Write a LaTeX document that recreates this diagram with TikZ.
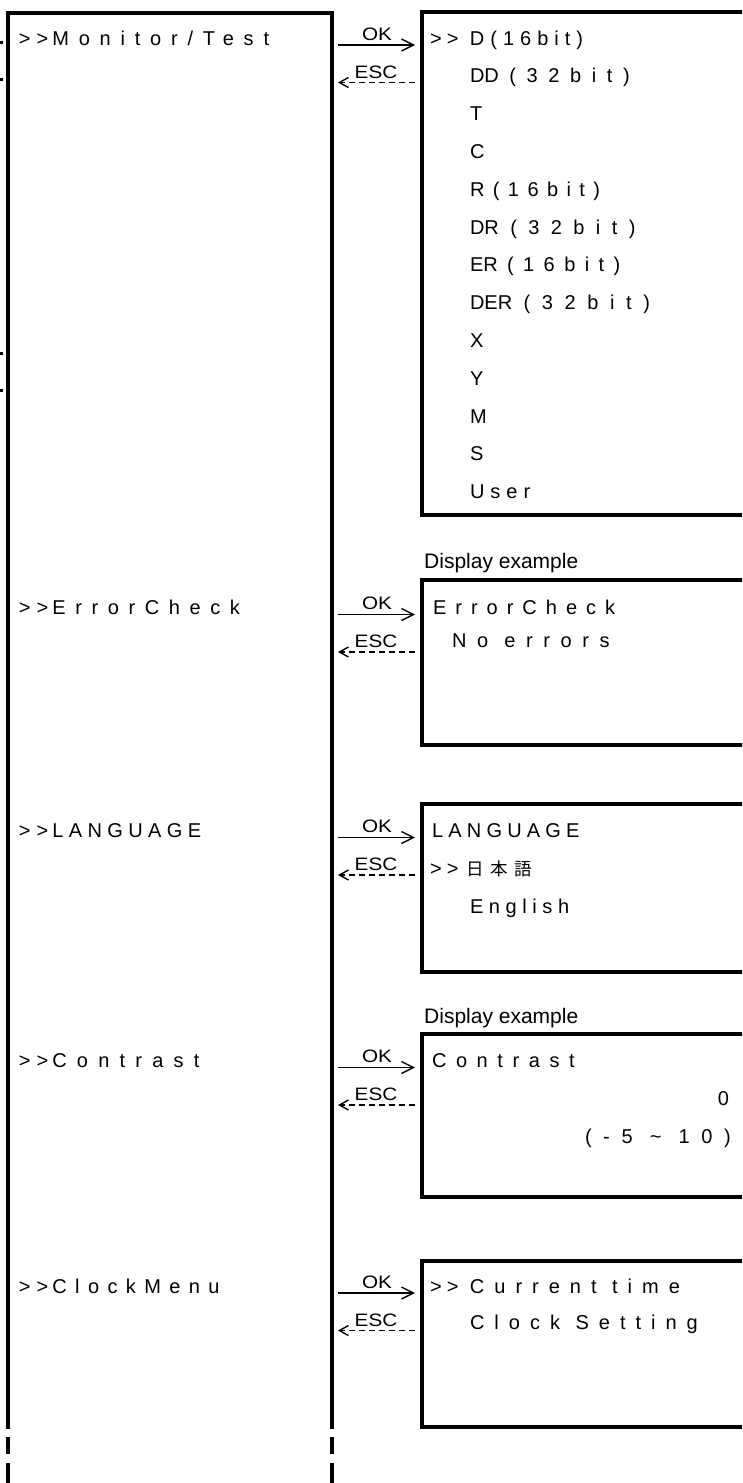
\documentclass[tikz,border=0pt]{standalone}
\usepackage{fontspec}
\setmainfont{Liberation Sans}
\newfontfamily\cjk{Noto Sans CJK JP}
\usetikzlibrary{arrows.meta}
\newcommand\lsp[2]{{\addfontfeature{LetterSpace=#1}#2}}
\newcommand\gtgt[2]{\mbox{>}\kern#1\mbox{>}\kern#2}
\begin{document}
\begin{tikzpicture}[x=1pt,y=-1pt,
  frame/.style={line width=4pt},
  screen/.style={draw, line width=4pt, outer sep=0pt, inner sep=0pt, anchor=north west, minimum width=360pt},
  lcd/.style={inner sep=0pt, outer sep=0pt, anchor=base west, font=\fontsize{20}{24}\selectfont},
  arrlab/.style={inner sep=0pt, anchor=base, font=\fontsize{18}{20}\selectfont\addfontfeature{FakeStretch=1.15}},
  note/.style={inner sep=0pt, anchor=base west, font=\fontsize{21}{24}\selectfont},
  okarr/.style={line width=1.4pt, -{Straight Barb[length=12pt,width=12pt,line width=1.4pt]}, shorten >=7pt},
  escarr/.style={line width=1.4pt, dash pattern=on 6pt off 4pt, -{Straight Barb[length=9pt,width=10pt,line width=1.4pt]}, shorten <=7pt}
]
\useasboundingbox (0,0) rectangle (742,1483);
\clip (0,0) rectangle (742,1483);
% left column
\draw[frame] (8,1429) -- (8,13) -- (332,13) -- (332,1429);
\draw[frame] (8,1437) -- (8,1454) (8,1463) -- (8,1490)
             (332,1437) -- (332,1454) (332,1463) -- (332,1490);
% cut-off marks at the left edge
\fill (0,41) rectangle (2.5,43.5);
\fill (0,78) rectangle (2.5,80.5);
\fill (0,352) rectangle (2.5,354.5);
\fill (0,389) rectangle (2.5,391.5);
% screens
\node[screen, minimum height=503pt] (box1) at (422,12) {};
\node[screen, minimum height=165pt] (box2) at (422,580) {};
\node[screen, minimum height=168pt] (box3) at (422,804) {};
\node[screen, minimum height=163pt] (box4) at (422,1034) {};
\node[screen, minimum height=166pt] (box5) at (422,1261) {};
% left column labels
\node[lcd] (m1) at (19,45) {\gtgt{6pt}{4pt}\lsp{49}{Monitor/Test}};
\node[lcd] (m2) at (19,614.5) {\gtgt{6pt}{4pt}\lsp{48}{ErrorCheck}};
\node[lcd] (m3) at (19,837.5) {\gtgt{6pt}{4pt}\lsp{27}{LANGUAGE}};
\node[lcd] (m4) at (19,1067.5) {\gtgt{6pt}{4pt}\lsp{51}{Contrast}};
\node[lcd] (m5) at (19,1293) {\gtgt{6pt}{4pt}\lsp{42}{ClockMenu}};
% box 1
\node[lcd] (d1) at (430,45) {\gtgt{5.3pt}{11.3pt}\lsp{30}{D(16bit)}};
\node[lcd] (d2) at (470,82.8) {DD\hspace{10.6pt}\lsp{53}{(32bit)}};
\node[lcd] (d3) at (470,120.6) {T};
\node[lcd] (d4) at (470,158.4) {C};
\node[lcd] (d5) at (470,196.2) {R\hspace{8.5pt}\lsp{42}{(16bit)}};
\node[lcd] (d6) at (470,234) {DR\hspace{11.5pt}\lsp{57}{(32bit)}};
\node[lcd] (d7) at (470,271.8) {ER\hspace{9.4pt}\lsp{47}{(16bit)}};
\node[lcd] (d8) at (470,309.6) {DER\hspace{11.5pt}\lsp{58}{(32bit)}};
\node[lcd] (d9) at (470,347.4) {X};
\node[lcd] (d10) at (470,385.2) {Y};
\node[lcd] (d11) at (470,423) {M};
\node[lcd] (d12) at (470,460.8) {S};
\node[lcd] (d13) at (470,498.6) {\lsp{30}{User}};
% box 2
\node[note] (n2) at (424,568) {Display example};
\node[lcd] (e1) at (433,614.5) {\lsp{45}{ErrorCheck}};
\node[lcd] (e2) at (452,647.5) {\lsp{53}{No errors}};
% box 3
\node[lcd] (l1) at (432,837.5) {\lsp{26}{LANGUAGE}};
\node[lcd] (l2) at (430,875.3) {\gtgt{5.3pt}{8pt}{\cjk\fontsize{17.5}{20}\selectfont\addfontfeature{LetterSpace=38}日本語}};
\node[lcd] (l3) at (470,913.1) {\lsp{28}{English}};
% box 4
\node[note] (n4) at (424,1023) {Display example};
\node[lcd] (c1) at (432,1067.5) {\lsp{48}{Contrast}};
\node[lcd, anchor=base east] (c2) at (729,1105.3) {0};
\node[lcd] (c3) at (585,1143.1) {\lsp{58}{(-5 \textasciitilde{} 10)}};
% box 5
\node[lcd] (k1) at (430,1293) {\gtgt{5.3pt}{11.3pt}\lsp{50}{Current time}};
\node[lcd] (k2) at (470,1329) {\lsp{50}{Clock Setting}};
% arrows
\foreach \c/\b/\i in {45/box1/1, 614.5/box2/2, 837.5/box3/3, 1067.5/box4/4, 1293/box5/5} {
  \coordinate (ok\i) at (338,\c);
  \coordinate (esc\i) at (338,\c+37.5);
  \draw[okarr] (ok\i) -- (ok\i -| \b.west);
  \draw[escarr] (esc\i -| \b.west) -- (esc\i);
  \node[arrlab] (okl\i) at (377,\c-5) {OK};
  \node[arrlab] (escl\i) at (376,\c+33) {ESC};
}
\end{tikzpicture}
\end{document}
